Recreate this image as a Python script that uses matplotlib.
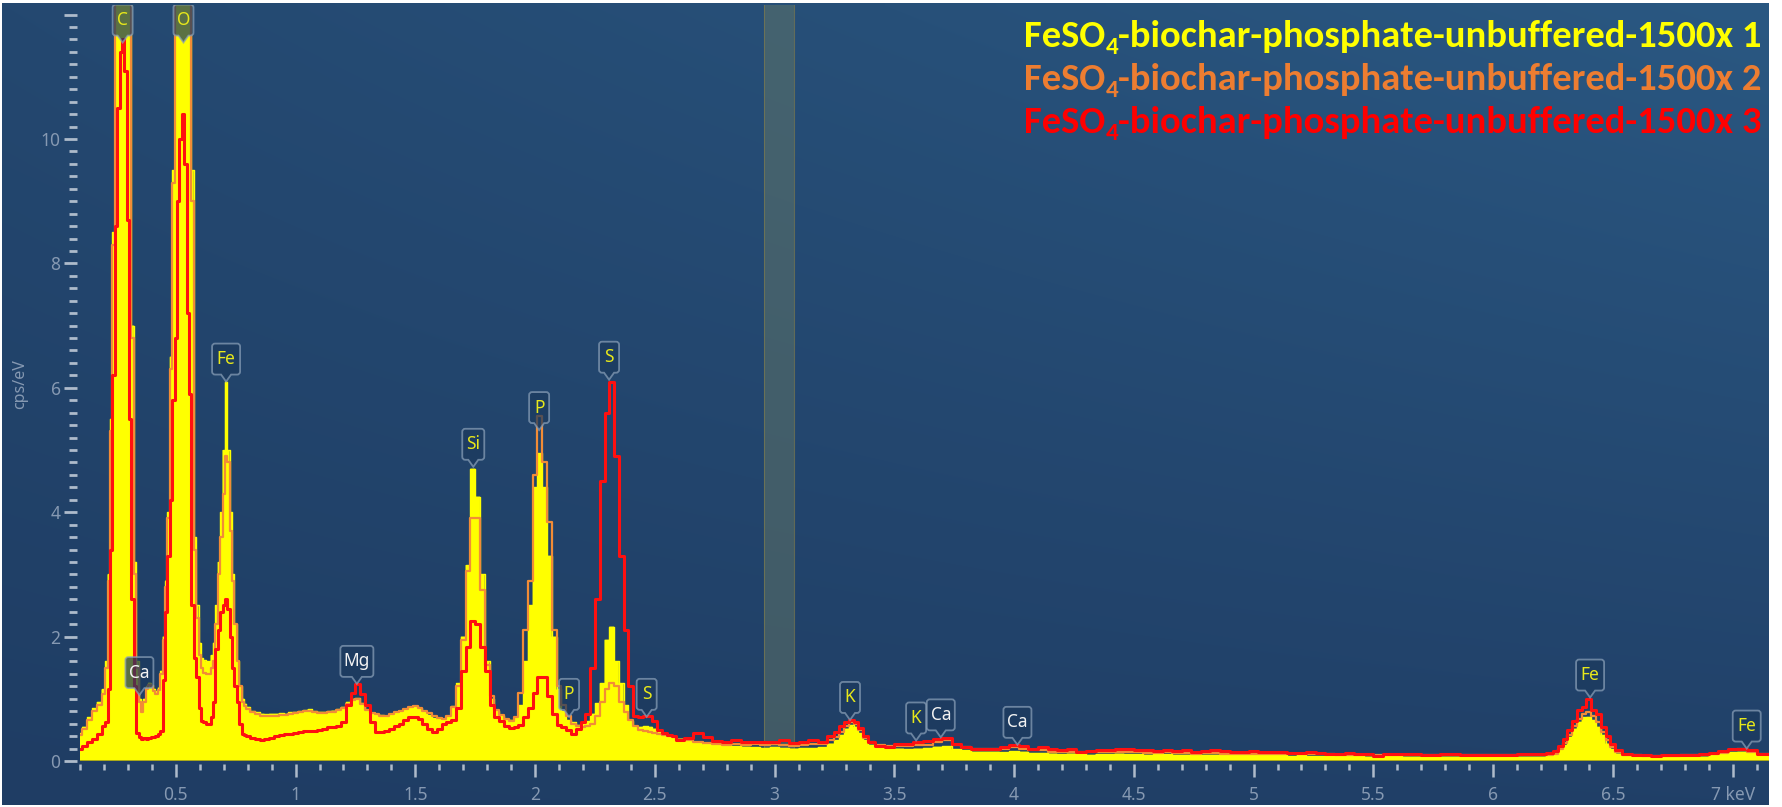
import numpy as np
import matplotlib
matplotlib.use("Agg")
import matplotlib.pyplot as plt
import matplotlib.transforms as mtransforms
from matplotlib.path import Path
from matplotlib.patches import PathPatch
from matplotlib import font_manager

# ------------------------------------------------------------------ data
energy_keV = [
    0.10, 0.12, 0.14, 0.16, 0.18,
    0.20, 0.21, 0.22, 0.23, 0.24, 0.25, 0.26, 0.27, 0.28, 0.29,
    0.30, 0.31, 0.32, 0.33, 0.34, 0.35, 0.36, 0.37, 0.38, 0.39,
    0.40, 0.41, 0.42, 0.43, 0.44, 0.45, 0.46, 0.47, 0.48, 0.49,
    0.50, 0.51, 0.52, 0.53, 0.54, 0.55, 0.56, 0.57, 0.58, 0.59,
    0.60, 0.61, 0.62, 0.63, 0.64, 0.65, 0.66, 0.67, 0.68, 0.69,
    0.70, 0.71, 0.72, 0.73, 0.74, 0.75, 0.76, 0.77, 0.78, 0.79, 0.80,
    0.82, 0.84, 0.86, 0.88, 0.90, 0.92, 0.94, 0.96, 0.98, 1.00,
    1.02, 1.04, 1.06, 1.08, 1.10, 1.12, 1.14, 1.16, 1.18, 1.20,
    1.22, 1.24, 1.26, 1.28, 1.30, 1.32, 1.34, 1.36, 1.38, 1.40,
    1.42, 1.44, 1.46, 1.48, 1.50, 1.52, 1.54, 1.56, 1.58, 1.60,
    1.62, 1.64, 1.66, 1.68, 1.70, 1.72, 1.74, 1.76, 1.78, 1.80,
    1.82, 1.84, 1.86, 1.88, 1.90, 1.92, 1.94, 1.96, 1.98, 2.00,
    2.02, 2.04, 2.06, 2.08, 2.10, 2.12, 2.14, 2.16, 2.18, 2.20,
    2.22, 2.24, 2.26, 2.28, 2.30, 2.32, 2.34, 2.36, 2.38, 2.40,
    2.42, 2.44, 2.46, 2.48, 2.50, 2.52, 2.54, 2.56, 2.58, 2.60,
    2.64, 2.68, 2.72, 2.76, 2.80, 2.84, 2.88, 2.92, 2.96, 3.00,
    3.04, 3.08, 3.12, 3.16, 3.20,
    3.24, 3.26, 3.28, 3.30, 3.32, 3.34, 3.36, 3.38, 3.40,
    3.44, 3.48, 3.52, 3.56, 3.60, 3.64, 3.68, 3.72, 3.76, 3.80,
    3.84, 3.88, 3.92, 3.96, 4.00, 4.04, 4.08, 4.12, 4.16, 4.20,
    4.24, 4.28, 4.32, 4.36,
    4.40, 4.44, 4.48, 4.52, 4.56, 4.60, 4.64, 4.68, 4.72, 4.76,
    4.80, 4.84, 4.88, 4.92, 4.96, 5.00, 5.04, 5.08, 5.12, 5.16,
    5.20, 5.24, 5.28, 5.32, 5.36, 5.40, 5.44, 5.48, 5.52, 5.56,
    5.60, 5.64, 5.68, 5.72, 5.76, 5.80, 5.84, 5.88, 5.92, 5.96,
    6.00, 6.04, 6.08, 6.12, 6.16, 6.20, 6.24,
    6.26, 6.28, 6.30, 6.32, 6.34, 6.36, 6.38, 6.40, 6.42, 6.44,
    6.46, 6.48, 6.50, 6.52,
    6.56, 6.60, 6.64, 6.68, 6.72, 6.76, 6.80, 6.84, 6.88, 6.92,
    6.96, 7.00, 7.04, 7.08, 7.12, 7.16,
]

# spectrum 1 (yellow, filled)
cps_1 = [
    0.45, 0.55, 0.70, 0.85, 0.95,
    1.15, 1.6, 3.0, 5.5, 8.5, 13, 13, 13, 13, 13,
    13, 12.5, 7.0, 3.2, 1.6, 1.0, 0.82, 1.0, 1.2, 1.26,
    1.22, 1.16, 1.12, 1.18, 1.45, 2.0, 2.9, 4.0, 6.5, 9.5,
    13, 13, 13, 13, 13, 13, 13, 9.5, 3.6, 2.5,
    1.9, 1.65, 1.62, 1.6, 1.6, 1.7, 1.9, 2.5, 3.2, 4.0,
    5.0, 6.1, 5.0, 4.0, 3.0, 2.2, 1.6, 1.2, 1.0, 0.92, 0.87,
    0.80, 0.78, 0.76, 0.75, 0.76, 0.76, 0.77, 0.76, 0.78, 0.79,
    0.80, 0.82, 0.83, 0.80, 0.79, 0.79, 0.80, 0.81, 0.83, 0.87,
    0.95, 1.00, 1.01, 0.93, 0.82, 0.77, 0.75, 0.74, 0.73, 0.76,
    0.79, 0.81, 0.84, 0.87, 0.88, 0.85, 0.79, 0.74, 0.69, 0.67,
    0.67, 0.71, 0.88, 1.25, 2.00, 3.15, 4.70, 4.25, 3.00, 1.60,
    1.00, 0.80, 0.72, 0.68, 0.66, 0.70, 0.90, 1.60, 2.50, 4.40,
    4.95, 4.40, 3.30, 2.00, 1.15, 0.80, 0.66, 0.62, 0.58, 0.60,
    0.64, 0.76, 0.93, 1.25, 1.95, 2.16, 1.60, 1.25, 0.90, 0.64,
    0.54, 0.55, 0.56, 0.55, 0.52, 0.48, 0.44, 0.42, 0.40, 0.36,
    0.32, 0.30, 0.27, 0.25, 0.26, 0.24, 0.23, 0.22, 0.21, 0.22,
    0.21, 0.20, 0.21, 0.21, 0.22,
    0.28, 0.33, 0.42, 0.52, 0.58, 0.55, 0.45, 0.33, 0.26,
    0.22, 0.20, 0.20, 0.19, 0.20, 0.21, 0.23, 0.24, 0.19, 0.17,
    0.15, 0.15, 0.15, 0.14, 0.16, 0.15, 0.13, 0.13, 0.12, 0.11,
    0.12, 0.11, 0.10, 0.11,
    0.11, 0.12, 0.11, 0.11, 0.10, 0.11, 0.11, 0.10, 0.10, 0.10,
    0.10, 0.10, 0.10, 0.09, 0.09, 0.09, 0.09, 0.09, 0.09, 0.08,
    0.09, 0.08, 0.08, 0.08, 0.08, 0.08, 0.08, 0.07, 0.07, 0.08,
    0.08, 0.07, 0.07, 0.07, 0.07, 0.07, 0.07, 0.07, 0.07, 0.07,
    0.07, 0.07, 0.07, 0.07, 0.07, 0.07, 0.08,
    0.10, 0.17, 0.25, 0.38, 0.52, 0.63, 0.70, 0.71, 0.66, 0.55,
    0.42, 0.28, 0.19, 0.12,
    0.08, 0.07, 0.07, 0.07, 0.06, 0.07, 0.07, 0.07, 0.07, 0.09,
    0.11, 0.14, 0.15, 0.13, 0.10, 0.09,
]

# spectrum 2 (orange line)
cps_2 = [
    0.42, 0.51, 0.66, 0.80, 0.90,
    1.08, 1.5, 2.9, 5.3, 8.3, 13, 13, 13, 13, 13,
    13, 12.4, 6.8, 3.0, 1.5, 0.95, 0.78, 0.95, 1.15, 1.22,
    1.2, 1.12, 1.08, 1.14, 1.4, 1.95, 2.8, 3.9, 6.3, 9.3,
    13, 13, 13, 13, 13, 13, 13, 9.0, 3.4, 2.3,
    1.7, 1.5, 1.42, 1.4, 1.4, 1.5, 1.6, 2.2, 3.0, 3.6,
    4.3, 4.9, 4.8, 3.7, 2.9, 2.2, 1.6, 1.2, 0.95, 0.88, 0.84,
    0.78, 0.75, 0.73, 0.72, 0.73, 0.73, 0.74, 0.74, 0.76, 0.77,
    0.79, 0.80, 0.81, 0.78, 0.77, 0.77, 0.78, 0.79, 0.82, 0.86,
    0.92, 0.98, 0.99, 0.92, 0.82, 0.77, 0.75, 0.73, 0.72, 0.75,
    0.78, 0.80, 0.84, 0.87, 0.89, 0.86, 0.80, 0.77, 0.72, 0.69,
    0.68, 0.72, 0.87, 1.20, 1.95, 3.05, 3.90, 3.90, 2.75, 1.55,
    1.05, 0.82, 0.74, 0.68, 0.64, 0.70, 1.10, 2.10, 2.90, 4.60,
    5.55, 4.80, 3.85, 2.10, 1.20, 0.90, 0.72, 0.60, 0.57, 0.55,
    0.56, 0.60, 0.72, 0.95, 1.15, 1.25, 1.20, 0.95, 0.78, 0.66,
    0.56, 0.50, 0.48, 0.47, 0.45, 0.44, 0.41, 0.40, 0.38, 0.34,
    0.33, 0.31, 0.29, 0.27, 0.26, 0.27, 0.26, 0.27, 0.25, 0.27,
    0.26, 0.24, 0.25, 0.27, 0.27,
    0.33, 0.38, 0.46, 0.56, 0.63, 0.60, 0.50, 0.37, 0.30,
    0.26, 0.24, 0.24, 0.24, 0.25, 0.26, 0.30, 0.33, 0.25, 0.22,
    0.20, 0.19, 0.19, 0.20, 0.22, 0.20, 0.17, 0.17, 0.15, 0.15,
    0.15, 0.14, 0.14, 0.14,
    0.14, 0.15, 0.14, 0.14, 0.13, 0.13, 0.14, 0.13, 0.13, 0.12,
    0.13, 0.13, 0.12, 0.12, 0.12, 0.11, 0.12, 0.11, 0.11, 0.11,
    0.11, 0.11, 0.12, 0.11, 0.10, 0.10, 0.10, 0.10, 0.10, 0.10,
    0.10, 0.10, 0.10, 0.09, 0.09, 0.10, 0.09, 0.09, 0.09, 0.09,
    0.09, 0.09, 0.09, 0.09, 0.09, 0.10, 0.10,
    0.12, 0.20, 0.29, 0.42, 0.56, 0.68, 0.76, 0.79, 0.72, 0.62,
    0.47, 0.33, 0.22, 0.15,
    0.10, 0.09, 0.08, 0.08, 0.08, 0.08, 0.09, 0.09, 0.09, 0.11,
    0.13, 0.17, 0.20, 0.15, 0.12, 0.11,
]

# spectrum 3 (red line)
cps_3 = [
    0.20, 0.24, 0.30, 0.36, 0.43,
    0.56, 0.62, 1.15, 3.4, 6.2, 8.6, 10.5, 11.4, 11.6, 11.1,
    8.7, 5.5, 2.6, 1.2, 0.45, 0.38, 0.36, 0.37, 0.36, 0.37,
    0.38, 0.38, 0.40, 0.43, 0.48, 1.3, 2.4, 3.3, 4.2, 5.8,
    6.8, 9.0, 10.0, 10.4, 9.6, 7.2, 5.9, 2.5, 1.65, 1.35,
    0.85, 0.65, 0.62, 0.6, 0.6, 0.7, 0.95, 1.8, 2.1, 2.4,
    2.5, 2.6, 2.45, 2.0, 1.5, 1.2, 0.95, 0.6, 0.43, 0.41, 0.40,
    0.37, 0.35, 0.34, 0.35, 0.37, 0.40, 0.42, 0.43, 0.44, 0.45,
    0.47, 0.48, 0.49, 0.48, 0.50, 0.52, 0.55, 0.54, 0.57, 0.62,
    0.90, 1.10, 1.24, 1.08, 0.90, 0.62, 0.46, 0.47, 0.49, 0.52,
    0.57, 0.60, 0.66, 0.70, 0.71, 0.67, 0.60, 0.52, 0.47, 0.52,
    0.60, 0.63, 0.66, 0.85, 1.45, 1.84, 2.25, 2.20, 1.84, 1.45,
    0.90, 0.70, 0.64, 0.57, 0.53, 0.54, 0.58, 0.70, 0.85, 1.10,
    1.35, 1.35, 1.05, 0.75, 0.58, 0.55, 0.50, 0.44, 0.52, 0.62,
    0.75, 1.50, 2.60, 4.50, 5.60, 6.10, 4.90, 3.30, 2.10, 1.20,
    0.72, 0.71, 0.72, 0.72, 0.65, 0.50, 0.45, 0.42, 0.40, 0.33,
    0.37, 0.45, 0.39, 0.32, 0.31, 0.34, 0.31, 0.31, 0.31, 0.31,
    0.33, 0.29, 0.31, 0.33, 0.31,
    0.40, 0.47, 0.56, 0.63, 0.66, 0.63, 0.53, 0.40, 0.31,
    0.24, 0.23, 0.27, 0.28, 0.31, 0.32, 0.36, 0.37, 0.27, 0.22,
    0.20, 0.19, 0.20, 0.22, 0.26, 0.24, 0.20, 0.22, 0.19, 0.18,
    0.19, 0.15, 0.16, 0.17,
    0.18, 0.19, 0.20, 0.18, 0.18, 0.16, 0.17, 0.16, 0.17, 0.15,
    0.16, 0.17, 0.16, 0.15, 0.14, 0.16, 0.15, 0.14, 0.15, 0.13,
    0.13, 0.14, 0.13, 0.12, 0.12, 0.13, 0.12, 0.11, 0.08, 0.11,
    0.12, 0.11, 0.11, 0.10, 0.10, 0.11, 0.11, 0.10, 0.09, 0.10,
    0.10, 0.10, 0.09, 0.11, 0.12, 0.12, 0.13,
    0.16, 0.24, 0.35, 0.50, 0.65, 0.82, 0.87, 1.00, 0.82, 0.75,
    0.55, 0.40, 0.27, 0.18,
    0.12, 0.10, 0.09, 0.08, 0.09, 0.10, 0.09, 0.10, 0.11, 0.13,
    0.16, 0.20, 0.19, 0.18, 0.12, 0.11,
]

series_names = [
    "FeSO4-biochar-phosphate-unbuffered-1500x 1",
    "FeSO4-biochar-phosphate-unbuffered-1500x 2",
    "FeSO4-biochar-phosphate-unbuffered-1500x 3",
]
series_colors = ["#ffff00", "#f28c36", "#ff1010"]
legend_colors = ["#ffff00", "#ed7d31", "#ff0000"]

# element markers: label, energy (keV), pointer tip height (cps/eV)
peak_labels = ["C", "O", "Fe", "Ca", "Mg", "Si", "P", "P", "S", "S",
               "K", "K", "Ca", "Ca", "Fe", "Fe"]
peak_energy = [0.278, 0.532, 0.71, 0.348, 1.256, 1.742, 2.017, 2.142,
               2.309, 2.466, 3.315, 3.591, 3.694, 4.014, 6.405, 7.059]
peak_tip = [11.55, 11.55, 6.1, 1.06, 1.24, 4.73, 5.32, 0.71,
            6.13, 0.71, 0.66, 0.33, 0.38, 0.26, 1.02, 0.20]

x_major = [0.5, 1.0, 1.5, 2.0, 2.5, 3.0, 3.5, 4.0, 4.5, 5.0, 5.5, 6.0, 6.5, 7.0]
x_major_labels = ["0.5", "1", "1.5", "2", "2.5", "3", "3.5", "4", "4.5",
                  "5", "5.5", "6", "6.5", "7 keV"]
y_major = [0, 2, 4, 6, 8, 10, 12]
y_major_labels = ["0", "2", "4", "6", "8", "10", ""]
highlight_band = (2.955, 3.083)

assert len(energy_keV) == len(cps_1) == len(cps_2) == len(cps_3)

# ------------------------------------------------------------------ fonts
names = {f.name for f in font_manager.fontManager.ttflist}


def pick(*cands):
    for c in cands:
        if c in names:
            return c
    return "DejaVu Sans"


UI_FONT = pick("Noto Sans", "Open Sans", "DejaVu Sans")
LEG_FONT = pick("Carlito", "Lato", "Open Sans")

W_PX, H_PX = 1783, 807
fig = plt.figure(figsize=(W_PX / 100, H_PX / 100), dpi=100, facecolor="white")


def px_rect(x0, y0, x1, y1):
    return [x0 / W_PX, 1 - y1 / H_PX, (x1 - x0) / W_PX, (y1 - y0) / H_PX]


# background gradient
bg = fig.add_axes(px_rect(2, 3, 1769, 805))
bg.axis("off")
u = np.linspace(0, 1, 300)[None, :]
v = np.linspace(1, 0, 150)[:, None]
TL = np.array([36, 72, 112]) / 255
TR = np.array([42, 88, 130]) / 255
BL = np.array([31, 61, 100]) / 255
BR = np.array([33, 64, 104]) / 255
img = (TL[None, None, :] * ((1 - u) * v)[..., None] + TR * (u * v)[..., None]
       + BL * ((1 - u) * (1 - v))[..., None] + BR * (u * (1 - v))[..., None])
bg.imshow(img, aspect="auto", extent=[0, 1, 0, 1], interpolation="bilinear")

# main axes
ax = fig.add_axes(px_rect(80, 5, 1769, 761), facecolor="none")
E = np.array(energy_keV)
ax.set_xlim(0.10, 7.152)
ax.set_ylim(0, 12.154)

ax.axvspan(*highlight_band, color="#6a7c66", alpha=0.45, lw=0, zorder=1)
for xb in highlight_band:
    ax.axvline(xb, color="#7c7a4e", lw=0.8, alpha=0.7, zorder=1)

ax.fill_between(E, cps_1, 0, step="mid", color=series_colors[0], lw=0, zorder=2)
ax.step(E, cps_1, where="mid", color=series_colors[0], lw=1.0, zorder=2.2)
ax.step(E, cps_2, where="mid", color=series_colors[1], lw=1.6, zorder=3)
ax.step(E, cps_3, where="mid", color=series_colors[2], lw=2.2, zorder=4)
ax.axhline(0, color="#9c9a1c", lw=1.2, zorder=4.5)

for s in ax.spines.values():
    s.set_visible(False)
ax.spines["left"].set_position(("outward", 2.2))
ax.spines["bottom"].set_position(("outward", 2.2))

TICK = "#aebbcb"
LAB = "#8699b2"
ax.set_xticks(x_major)
ax.set_xticklabels(x_major_labels)
ax.set_xticks([k / 10 for k in range(1, 72) if k % 5], minor=True)
ax.set_yticks(y_major)
ax.set_yticklabels(y_major_labels)
ax.set_yticks([k / 5 for k in range(0, 61) if k % 10], minor=True)
ax.tick_params(axis="y", which="major", length=9.6, width=2.0, color=TICK,
               pad=2.2, labelsize=12.5, labelcolor=LAB)
ax.tick_params(axis="y", which="minor", length=6.0, width=2.0, color=TICK)
ax.tick_params(axis="x", which="major", length=9.0, width=1.8, color=TICK,
               pad=7, labelsize=12.5, labelcolor=LAB)
ax.tick_params(axis="x", which="minor", length=4.3, width=1.8, color=TICK)
for lab in ax.get_xticklabels() + ax.get_yticklabels():
    lab.set_family(UI_FONT)

fig.text(20 / W_PX, 1 - 384 / H_PX, "cps/eV", rotation=90, ha="center",
         va="center", color=LAB, fontsize=11.5, family=UI_FONT)


# element marker boxes (pixel geometry anchored at data point)
BOX_H, PTR_H = 31, 7


def marker_path(w, h=BOX_H, p=PTR_H, pw=5, r=3):
    verts = [(0, 0), (pw, p), (w / 2 - r, p), (w / 2, p), (w / 2, p + r),
             (w / 2, p + h - r), (w / 2, p + h), (w / 2 - r, p + h),
             (-w / 2 + r, p + h), (-w / 2, p + h), (-w / 2, p + h - r),
             (-w / 2, p + r), (-w / 2, p), (-w / 2 + r, p), (-pw, p), (0, 0)]
    codes = [Path.MOVETO, Path.LINETO, Path.LINETO, Path.CURVE3, Path.CURVE3,
             Path.LINETO, Path.CURVE3, Path.CURVE3, Path.LINETO, Path.CURVE3,
             Path.CURVE3, Path.LINETO, Path.CURVE3, Path.CURVE3, Path.LINETO,
             Path.CLOSEPOLY]
    return Path(verts, codes)


for lab, e, yt in zip(peak_labels, peak_energy, peak_tip):
    if lab == "Mg":
        w = 33
    elif lab == "Si":
        w = 22
    elif len(lab) == 2:
        w = 28
    else:
        w = 20
    tr = mtransforms.ScaledTranslation(e, yt, ax.transData)
    patch = PathPatch(marker_path(w), transform=tr, facecolor="#1c3a5e",
                      alpha=0.72, edgecolor="#8aa0b8", lw=1.3, zorder=6)
    ax.add_patch(patch)
    col = "#f2f2f2" if lab in ("Ca", "Mg") else "#e8e81a"
    ax.annotate(lab, xy=(e, yt), xytext=(0, PTR_H + BOX_H / 2),
                textcoords="offset pixels", ha="center", va="center",
                color=col, fontsize=12.5, family=UI_FONT, zorder=7,
                annotation_clip=False, clip_on=True)

# legend (top right), sized to the reference width
renderer = fig.canvas.get_renderer()
ident = mtransforms.IdentityTransform()


def tw(s, fs):
    t = fig.text(0, 0, s, fontsize=fs, fontweight="bold", family=LEG_FONT)
    wd = t.get_window_extent(renderer).width
    t.remove()
    return wd


def parts_of(name):
    a, b, c = name.partition("SO4")
    return a + "SO", "4", c


big, sub, rest = parts_of(series_names[0])
fs = 22.0
for _ in range(3):
    total = tw(big, fs) + tw(sub, fs * 0.65) + tw(rest, fs)
    fs *= 736.0 / total

baselines = [47, 90, 133]
for name, col, yb in zip(series_names, legend_colors, baselines):
    big, sub, rest = parts_of(name)
    w1, w2, w3 = tw(big, fs), tw(sub, fs * 0.65), tw(rest, fs)
    x0 = 1762 - (w1 + w2 + w3)
    yd = H_PX - yb
    fig.text(x0, yd, big, transform=ident, fontsize=fs, fontweight="bold",
             family=LEG_FONT, color=col, va="baseline", ha="left")
    fig.text(x0 + w1, yd - 7, sub, transform=ident, fontsize=fs * 0.65,
             fontweight="bold", family=LEG_FONT, color=col, va="baseline", ha="left")
    fig.text(x0 + w1 + w2, yd, rest, transform=ident, fontsize=fs,
             fontweight="bold", family=LEG_FONT, color=col, va="baseline", ha="left")

fig.savefig("out.png", dpi=100, facecolor=fig.get_facecolor())
